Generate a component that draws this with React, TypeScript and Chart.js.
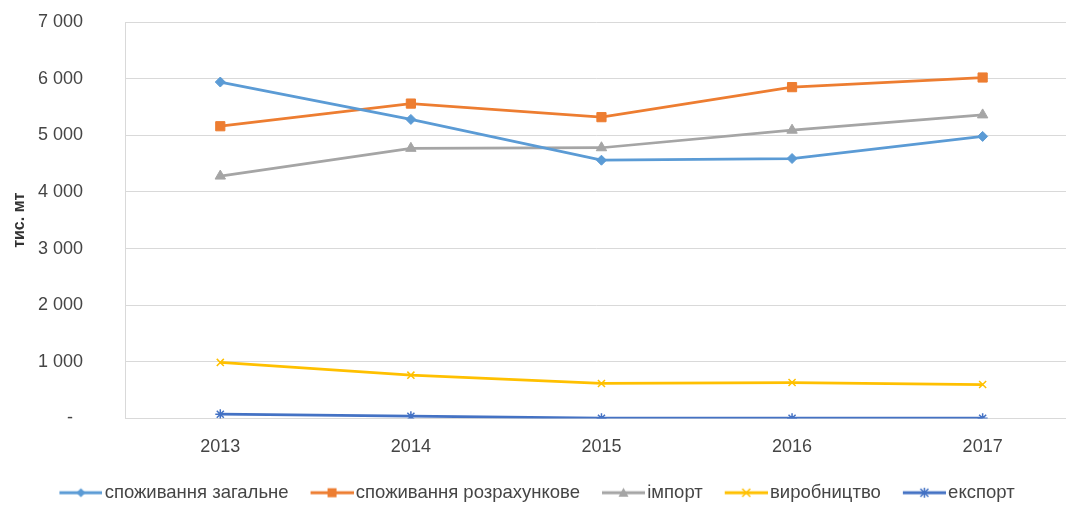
import React, { useEffect, useRef } from 'react';
import { Chart, registerables } from 'chart.js';

Chart.register(...registerables);

const years = [2013, 2014, 2015, 2016, 2017];
const totalConsumption = [5940, 5280, 4560, 4590, 4980];
const calcConsumption = [5160, 5560, 5320, 5850, 6020];
const imports = [4280, 4770, 4780, 5090, 5360];
const production = [990, 765, 618, 635, 600];
const exportsData = [76, 40, 5, 5, 5];
const yTickValues = [0, 1000, 2000, 3000, 4000, 5000, 6000, 7000];
const seriesNames = [
  'споживання загальне',
  'споживання розрахункове',
  'імпорт',
  'виробництво',
  'експорт',
];
const seriesColors = ['#5B9BD5', '#ED7D31', '#A5A5A5', '#FFC000', '#4472C4'];
const seriesMarkers = ['diamond', 'square', 'triangle', 'x', 'star'];
const axisTitle = 'тис. мт';

const FONT = '"Liberation Sans", Arial, sans-serif';
const TEXT_COLOR = '#454545';
const GRID_COLOR = '#D9D9D9';

function fmt(v: number): string {
  if (v === 0) return '-  ';
  return String(v).replace(/\B(?=(\d{3})+(?!\d))/g, ' ');
}

function makeLegendImage(color: string, marker: string): HTMLCanvasElement {
  const c = document.createElement('canvas');
  c.width = 48;
  c.height = 16;
  const ctx = c.getContext('2d')!;
  const cy = 8;
  ctx.strokeStyle = color;
  ctx.fillStyle = color;
  ctx.lineWidth = 3;
  ctx.beginPath();
  ctx.moveTo(5, cy);
  ctx.lineTo(48, cy);
  ctx.stroke();
  const cx = 26.5;
  ctx.lineWidth = 1.5;
  ctx.beginPath();
  if (marker === 'diamond') {
    ctx.moveTo(cx, cy - 4.5);
    ctx.lineTo(cx + 4.5, cy);
    ctx.lineTo(cx, cy + 4.5);
    ctx.lineTo(cx - 4.5, cy);
    ctx.closePath();
    ctx.fill();
  } else if (marker === 'square') {
    ctx.rect(cx - 4.5, cy - 4.5, 9, 9);
    ctx.fill();
  } else if (marker === 'triangle') {
    ctx.moveTo(cx, cy - 5);
    ctx.lineTo(cx + 5, cy + 4);
    ctx.lineTo(cx - 5, cy + 4);
    ctx.closePath();
    ctx.fill();
  } else if (marker === 'x') {
    ctx.moveTo(cx - 4, cy - 4);
    ctx.lineTo(cx + 4, cy + 4);
    ctx.moveTo(cx + 4, cy - 4);
    ctx.lineTo(cx - 4, cy + 4);
    ctx.stroke();
  } else {
    ctx.moveTo(cx - 4, cy - 4);
    ctx.lineTo(cx + 4, cy + 4);
    ctx.moveTo(cx + 4, cy - 4);
    ctx.lineTo(cx - 4, cy + 4);
    ctx.moveTo(cx, cy - 5);
    ctx.lineTo(cx, cy + 5);
    ctx.stroke();
  }
  return c;
}

const pointStyleMap: Record<string, any> = {
  diamond: 'rectRot',
  square: 'rect',
  triangle: 'triangle',
  x: 'crossRot',
  star: 'star',
};
const pointRadiusMap: Record<string, number> = {
  diamond: 5,
  square: 6.5,
  triangle: 6,
  x: 5,
  star: 5,
};

export default function App() {
  const ref = useRef<HTMLCanvasElement | null>(null);

  useEffect(() => {
    if (!ref.current) return;
    const allSeries = [totalConsumption, calcConsumption, imports, production, exportsData];
    const legendImages = seriesColors.map((c, i) => makeLegendImage(c, seriesMarkers[i]));

    const datasets = allSeries.map((vals, i) => ({
      label: seriesNames[i],
      data: vals.map((v, j) => ({ x: years[j], y: v })),
      borderColor: seriesColors[i],
      backgroundColor: seriesColors[i],
      pointBackgroundColor: seriesColors[i],
      pointBorderColor: seriesColors[i],
      borderWidth: 2.75,
      tension: 0,
      pointStyle: pointStyleMap[seriesMarkers[i]],
      pointRadius: pointRadiusMap[seriesMarkers[i]],
      pointBorderWidth: seriesMarkers[i] === 'x' || seriesMarkers[i] === 'star' ? 1.5 : 1,
      fill: false,
    }));

    const chart = new Chart(ref.current, {
      type: 'line',
      data: { datasets },
      options: {
        animation: false,
        responsive: false,
        maintainAspectRatio: false,
        layout: { padding: { top: 22, left: 2, right: 0, bottom: 0 } },
        plugins: {
          tooltip: { enabled: false },
          legend: {
            position: 'bottom',
            labels: {
              usePointStyle: true,
              pointStyleWidth: 34,
              padding: 24,
              color: TEXT_COLOR,
              font: { size: 18.5, family: FONT },
              generateLabels: (ch: any) => {
                const items = (Chart.defaults.plugins.legend.labels as any).generateLabels(ch);
                items.forEach((it: any, i: number) => {
                  it.pointStyle = legendImages[i];
                  it.rotation = 0;
                });
                return items;
              },
            },
          },
        },
        scales: {
          x: {
            type: 'linear',
            min: 2012.5,
            max: 2017.44,
            grid: {
              display: true,
              drawOnChartArea: false,
              drawTicks: true,
              tickLength: 18,
              color: 'rgba(0,0,0,0)',
              tickColor: 'rgba(0,0,0,0)',
            },
            border: { display: false },
            afterBuildTicks: (s: any) => {
              s.ticks = years.map((v) => ({ value: v }));
            },
            afterFit: (s: any) => {
              s.height = 41;
              s.paddingLeft = 0;
              s.paddingRight = 0;
            },
            ticks: {
              padding: 0,
              color: TEXT_COLOR,
              font: { size: 18, family: FONT },
              callback: (v: any) => String(v),
              maxRotation: 0,
              autoSkip: false,
            },
          },
          y: {
            min: 0,
            max: 7000,
            afterBuildTicks: (s: any) => {
              s.ticks = yTickValues.map((v) => ({ value: v }));
            },
            afterFit: (s: any) => {
              s.width = 123;
            },
            grid: {
              color: GRID_COLOR,
              lineWidth: 1,
              drawTicks: true,
              tickLength: 42,
              tickColor: 'rgba(0,0,0,0)',
            },
            border: { display: true, color: GRID_COLOR, width: 1 },
            ticks: {
              padding: 0,
              color: TEXT_COLOR,
              font: { size: 18, family: FONT },
              callback: (v: any) => fmt(Number(v)),
            },
            title: {
              display: true,
              text: axisTitle,
              color: '#333333',
              font: { size: 16, weight: 'bold', family: FONT },
              padding: { top: 8, bottom: 0 },
            },
          },
        },
      } as any,
    });
    return () => chart.destroy();
  }, []);

  return (
    <div
      style={{
        position: 'absolute',
        left: 0,
        top: 0,
        width: 1066,
        height: 505,
        overflow: 'hidden',
        background: '#ffffff',
      }}
    >
      <canvas ref={ref} width={1074} height={512} style={{ display: 'block' }} />
    </div>
  );
}
